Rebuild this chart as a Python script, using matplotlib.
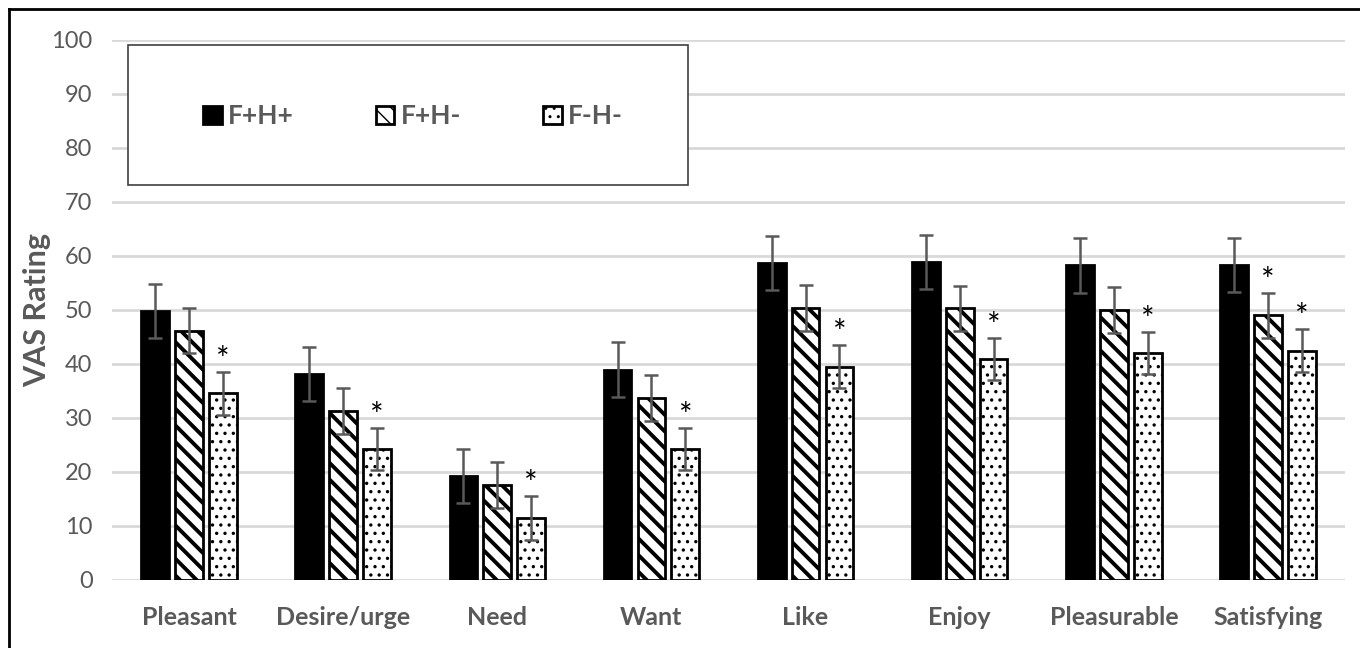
import matplotlib.pyplot as plt
import numpy as np
from matplotlib.patches import Rectangle
from matplotlib.lines import Line2D

categories = ["Pleasant", "Desire/urge", "Need", "Want", "Like", "Enjoy", "Pleasurable", "Satisfying"]
groups = ["F+H+", "F+H-", "F-H-"]

fphp = [49.8, 38.2, 19.2, 38.9, 58.7, 58.9, 58.3, 58.3]
fphm = [46.2, 31.3, 17.6, 33.7, 50.4, 50.3, 50.0, 49.0]
fmhm = [34.6, 24.3, 11.5, 24.2, 39.5, 40.9, 42.0, 42.5]

fphp_err = [5.0, 5.0, 5.0, 5.1, 5.0, 5.0, 5.1, 5.0]
fphm_err = [4.2, 4.3, 4.3, 4.3, 4.2, 4.2, 4.2, 4.2]
fmhm_err = [4.0, 3.9, 4.0, 3.9, 4.0, 3.9, 3.9, 4.0]

# significance stars: (series index, category index)
stars = [(2, 0), (2, 1), (2, 2), (2, 3), (2, 4), (2, 5), (2, 6), (1, 7), (2, 7)]

plt.rcParams['font.family'] = ['Lato', 'DejaVu Sans']
gray = "#595959"

fig = plt.figure(figsize=(13.6, 6.48), dpi=100)
ax = fig.add_axes([112/1360, 1-580/648, 1233/1360, 540/648])

x = np.arange(len(categories))
w = 0.18
step = 0.22
series = [fphp, fphm, fmhm]
errs = [fphp_err, fphm_err, fmhm_err]
faces = ["black", "white", "white"]
hatches = [None, "\\\\", ".."]
hatch_lw = [1.0, 2.8, 1.2]

for i in range(3):
    with plt.rc_context({"hatch.linewidth": hatch_lw[i]}):
        ax.bar(x + (i-1)*step, series[i], w, color=faces[i], edgecolor="black",
               linewidth=2, hatch=hatches[i], zorder=2, label=groups[i])
    ax.errorbar(x + (i-1)*step, series[i], yerr=errs[i], fmt="none",
                ecolor=gray, elinewidth=1.8, capsize=5, capthick=1.8, zorder=3)

for s, c in stars:
    top = series[s][c] + errs[s][c]
    ax.annotate("*", (c + (s-1)*step, top), xytext=(0, -3), textcoords="offset points",
                ha="center", va="bottom", fontsize=23, color="black")

ax.set_xlim(-0.5, len(categories)-0.5)
ax.set_ylim(0, 100)
ax.set_yticks(np.arange(0, 101, 10))
ax.grid(axis="y", color="#d9d9d9", linewidth=2, zorder=0)
ax.set_axisbelow(True)
for sp in ax.spines.values():
    sp.set_visible(False)
ax.tick_params(axis="both", length=0, colors=gray, labelsize=17)
ax.tick_params(axis="y", pad=14)
ax.tick_params(axis="x", pad=19)
ax.set_xticks(x)
ax.set_xticklabels(categories, fontweight="bold", fontsize=18)
ax.set_ylabel("VAS Rating", fontsize=22, fontweight="bold", color=gray)
ax.yaxis.set_label_coords(-61/1233, 0.5)

# legend box
box = Rectangle((16/1233, (580-185)/540), 560/1233, 140/540, transform=ax.transAxes,
                facecolor="white", edgecolor="#404040", linewidth=1.2, zorder=4)
ax.add_patch(box)
leg = ax.legend(loc="center", bbox_to_anchor=(301/1233, (580-116)/540), ncol=3, frameon=False,
                handlelength=0.7, handleheight=0.7, handletextpad=0.25, columnspacing=3.1,
                prop={"weight": "bold", "size": 19})
leg.set_zorder(5)
for t in leg.get_texts():
    t.set_color(gray)

# outer frame
fig.add_artist(Line2D([9/1360, 9/1360], [0, 1-9/648], color="black", lw=2))
fig.add_artist(Line2D([9/1360, 1], [1-9/648, 1-9/648], color="black", lw=2))

fig.savefig("out.png", dpi=100)
